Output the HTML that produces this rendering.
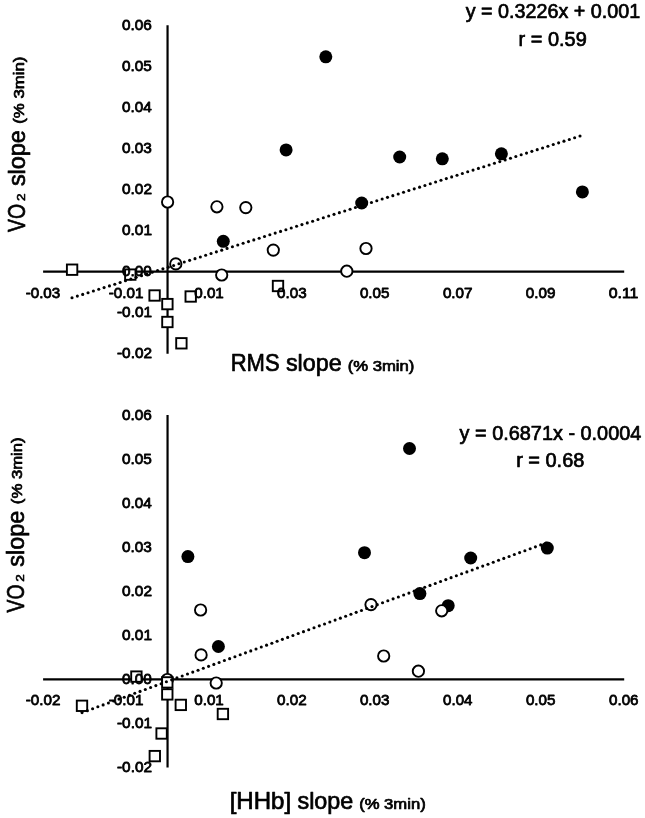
<!DOCTYPE html>
<html><head><meta charset="utf-8"><title>chart</title>
<style>html,body{margin:0;padding:0;background:#fff;}body{width:645px;height:818px;overflow:hidden}
text{font-family:"Liberation Sans",sans-serif;fill:#000;}</style></head>
<body>
<svg width="645" height="818" viewBox="0 0 645 818" style="display:block;will-change:transform;filter:grayscale(1)">
<rect width="645" height="818" fill="#fff"/>
<line x1="167.55" y1="25.3" x2="167.55" y2="353.8" stroke="#000" stroke-width="2.2" stroke-linecap="butt"/>
<line x1="43.1" y1="271.6" x2="624.2" y2="271.6" stroke="#000" stroke-width="2.2" stroke-linecap="butt"/>
<line x1="167.55" y1="415.1" x2="167.55" y2="767.5" stroke="#000" stroke-width="2.2" stroke-linecap="butt"/>
<line x1="43.1" y1="679.3" x2="624.2" y2="679.3" stroke="#000" stroke-width="2.2" stroke-linecap="butt"/>
<circle cx="325.8" cy="56.8" r="6.5" fill="#000"/>
<circle cx="286.1" cy="149.9" r="6.5" fill="#000"/>
<circle cx="399.7" cy="157" r="6.5" fill="#000"/>
<circle cx="361.7" cy="203" r="6.5" fill="#000"/>
<circle cx="442.3" cy="158.8" r="6.5" fill="#000"/>
<circle cx="501.4" cy="153.8" r="6.5" fill="#000"/>
<circle cx="582.4" cy="191.9" r="6.5" fill="#000"/>
<circle cx="223.3" cy="241.3" r="6.5" fill="#000"/>
<circle cx="167.6" cy="202" r="5.65" fill="#fff" stroke="#000" stroke-width="1.9"/>
<circle cx="216.9" cy="206.8" r="5.65" fill="#fff" stroke="#000" stroke-width="1.9"/>
<circle cx="245.8" cy="207.6" r="5.65" fill="#fff" stroke="#000" stroke-width="1.9"/>
<circle cx="175.8" cy="263.9" r="5.65" fill="#fff" stroke="#000" stroke-width="1.9"/>
<circle cx="221.7" cy="275" r="5.65" fill="#fff" stroke="#000" stroke-width="1.9"/>
<circle cx="273.3" cy="250.1" r="5.65" fill="#fff" stroke="#000" stroke-width="1.9"/>
<circle cx="366" cy="248.5" r="5.65" fill="#fff" stroke="#000" stroke-width="1.9"/>
<circle cx="346.8" cy="271.2" r="5.65" fill="#fff" stroke="#000" stroke-width="1.9"/>
<rect x="66.90" y="264.50" width="10.4" height="10.4" fill="#fff" stroke="#000" stroke-width="1.9"/>
<rect x="125.10" y="269.40" width="10.4" height="10.4" fill="#fff" stroke="#000" stroke-width="1.9"/>
<rect x="149.40" y="290.30" width="10.4" height="10.4" fill="#fff" stroke="#000" stroke-width="1.9"/>
<rect x="162.20" y="298.90" width="10.4" height="10.4" fill="#fff" stroke="#000" stroke-width="1.9"/>
<rect x="185.50" y="291.30" width="10.4" height="10.4" fill="#fff" stroke="#000" stroke-width="1.9"/>
<rect x="162.20" y="316.80" width="10.4" height="10.4" fill="#fff" stroke="#000" stroke-width="1.9"/>
<rect x="176.20" y="338.10" width="10.4" height="10.4" fill="#fff" stroke="#000" stroke-width="1.9"/>
<rect x="272.80" y="280.80" width="10.4" height="10.4" fill="#fff" stroke="#000" stroke-width="1.9"/>
<circle cx="187.9" cy="556.6" r="6.5" fill="#000"/>
<circle cx="409.5" cy="448.5" r="6.5" fill="#000"/>
<circle cx="364.5" cy="552.7" r="6.5" fill="#000"/>
<circle cx="419.9" cy="593.6" r="6.5" fill="#000"/>
<circle cx="448.2" cy="605.7" r="6.5" fill="#000"/>
<circle cx="547.3" cy="548.1" r="6.5" fill="#000"/>
<circle cx="470.7" cy="558" r="6.5" fill="#000"/>
<circle cx="218.4" cy="646.5" r="6.5" fill="#000"/>
<circle cx="200.6" cy="610" r="5.65" fill="#fff" stroke="#000" stroke-width="1.9"/>
<circle cx="201.1" cy="654.9" r="5.65" fill="#fff" stroke="#000" stroke-width="1.9"/>
<circle cx="167.4" cy="679.5" r="5.65" fill="#fff" stroke="#000" stroke-width="1.9"/>
<circle cx="216.2" cy="683" r="5.65" fill="#fff" stroke="#000" stroke-width="1.9"/>
<circle cx="371" cy="604.6" r="5.65" fill="#fff" stroke="#000" stroke-width="1.9"/>
<circle cx="383.7" cy="656" r="5.65" fill="#fff" stroke="#000" stroke-width="1.9"/>
<circle cx="418.4" cy="671.2" r="5.65" fill="#fff" stroke="#000" stroke-width="1.9"/>
<circle cx="441.7" cy="610.8" r="5.65" fill="#fff" stroke="#000" stroke-width="1.9"/>
<rect x="76.80" y="700.60" width="10.4" height="10.4" fill="#fff" stroke="#000" stroke-width="1.9"/>
<rect x="131.20" y="671.40" width="10.4" height="10.4" fill="#fff" stroke="#000" stroke-width="1.9"/>
<rect x="162.10" y="677.20" width="10.4" height="10.4" fill="#fff" stroke="#000" stroke-width="1.9"/>
<rect x="162.10" y="689.20" width="10.4" height="10.4" fill="#fff" stroke="#000" stroke-width="1.9"/>
<rect x="175.60" y="699.70" width="10.4" height="10.4" fill="#fff" stroke="#000" stroke-width="1.9"/>
<rect x="217.70" y="708.80" width="10.4" height="10.4" fill="#fff" stroke="#000" stroke-width="1.9"/>
<rect x="156.40" y="728.30" width="10.4" height="10.4" fill="#fff" stroke="#000" stroke-width="1.9"/>
<rect x="149.60" y="750.90" width="10.4" height="10.4" fill="#fff" stroke="#000" stroke-width="1.9"/>
<circle cx="72.00" cy="297.80" r="1.55"/>
<circle cx="77.35" cy="296.10" r="1.55"/>
<circle cx="82.69" cy="294.39" r="1.55"/>
<circle cx="88.04" cy="292.69" r="1.55"/>
<circle cx="93.39" cy="290.99" r="1.55"/>
<circle cx="98.74" cy="289.29" r="1.55"/>
<circle cx="104.08" cy="287.58" r="1.55"/>
<circle cx="109.43" cy="285.88" r="1.55"/>
<circle cx="114.78" cy="284.18" r="1.55"/>
<circle cx="120.13" cy="282.48" r="1.55"/>
<circle cx="125.47" cy="280.77" r="1.55"/>
<circle cx="130.82" cy="279.07" r="1.55"/>
<circle cx="136.17" cy="277.37" r="1.55"/>
<circle cx="141.52" cy="275.67" r="1.55"/>
<circle cx="146.86" cy="273.96" r="1.55"/>
<circle cx="152.21" cy="272.26" r="1.55"/>
<circle cx="157.56" cy="270.56" r="1.55"/>
<circle cx="162.91" cy="268.86" r="1.55"/>
<circle cx="168.25" cy="267.15" r="1.55"/>
<circle cx="173.60" cy="265.45" r="1.55"/>
<circle cx="178.95" cy="263.75" r="1.55"/>
<circle cx="184.29" cy="262.04" r="1.55"/>
<circle cx="189.64" cy="260.34" r="1.55"/>
<circle cx="194.99" cy="258.64" r="1.55"/>
<circle cx="200.34" cy="256.94" r="1.55"/>
<circle cx="205.68" cy="255.23" r="1.55"/>
<circle cx="211.03" cy="253.53" r="1.55"/>
<circle cx="216.38" cy="251.83" r="1.55"/>
<circle cx="221.73" cy="250.13" r="1.55"/>
<circle cx="227.07" cy="248.42" r="1.55"/>
<circle cx="232.42" cy="246.72" r="1.55"/>
<circle cx="237.77" cy="245.02" r="1.55"/>
<circle cx="243.12" cy="243.32" r="1.55"/>
<circle cx="248.46" cy="241.61" r="1.55"/>
<circle cx="253.81" cy="239.91" r="1.55"/>
<circle cx="259.16" cy="238.21" r="1.55"/>
<circle cx="264.51" cy="236.51" r="1.55"/>
<circle cx="269.85" cy="234.80" r="1.55"/>
<circle cx="275.20" cy="233.10" r="1.55"/>
<circle cx="280.55" cy="231.40" r="1.55"/>
<circle cx="285.89" cy="229.69" r="1.55"/>
<circle cx="291.24" cy="227.99" r="1.55"/>
<circle cx="296.59" cy="226.29" r="1.55"/>
<circle cx="301.94" cy="224.59" r="1.55"/>
<circle cx="307.28" cy="222.88" r="1.55"/>
<circle cx="312.63" cy="221.18" r="1.55"/>
<circle cx="317.98" cy="219.48" r="1.55"/>
<circle cx="323.33" cy="217.78" r="1.55"/>
<circle cx="328.67" cy="216.07" r="1.55"/>
<circle cx="334.02" cy="214.37" r="1.55"/>
<circle cx="339.37" cy="212.67" r="1.55"/>
<circle cx="344.72" cy="210.97" r="1.55"/>
<circle cx="350.06" cy="209.26" r="1.55"/>
<circle cx="355.41" cy="207.56" r="1.55"/>
<circle cx="360.76" cy="205.86" r="1.55"/>
<circle cx="366.11" cy="204.16" r="1.55"/>
<circle cx="371.45" cy="202.45" r="1.55"/>
<circle cx="376.80" cy="200.75" r="1.55"/>
<circle cx="382.15" cy="199.05" r="1.55"/>
<circle cx="387.49" cy="197.34" r="1.55"/>
<circle cx="392.84" cy="195.64" r="1.55"/>
<circle cx="398.19" cy="193.94" r="1.55"/>
<circle cx="403.54" cy="192.24" r="1.55"/>
<circle cx="408.88" cy="190.53" r="1.55"/>
<circle cx="414.23" cy="188.83" r="1.55"/>
<circle cx="419.58" cy="187.13" r="1.55"/>
<circle cx="424.93" cy="185.43" r="1.55"/>
<circle cx="430.27" cy="183.72" r="1.55"/>
<circle cx="435.62" cy="182.02" r="1.55"/>
<circle cx="440.97" cy="180.32" r="1.55"/>
<circle cx="446.32" cy="178.62" r="1.55"/>
<circle cx="451.66" cy="176.91" r="1.55"/>
<circle cx="457.01" cy="175.21" r="1.55"/>
<circle cx="462.36" cy="173.51" r="1.55"/>
<circle cx="467.71" cy="171.81" r="1.55"/>
<circle cx="473.05" cy="170.10" r="1.55"/>
<circle cx="478.40" cy="168.40" r="1.55"/>
<circle cx="483.75" cy="166.70" r="1.55"/>
<circle cx="489.09" cy="164.99" r="1.55"/>
<circle cx="494.44" cy="163.29" r="1.55"/>
<circle cx="499.79" cy="161.59" r="1.55"/>
<circle cx="505.14" cy="159.89" r="1.55"/>
<circle cx="510.48" cy="158.18" r="1.55"/>
<circle cx="515.83" cy="156.48" r="1.55"/>
<circle cx="521.18" cy="154.78" r="1.55"/>
<circle cx="526.53" cy="153.08" r="1.55"/>
<circle cx="531.87" cy="151.37" r="1.55"/>
<circle cx="537.22" cy="149.67" r="1.55"/>
<circle cx="542.57" cy="147.97" r="1.55"/>
<circle cx="547.92" cy="146.27" r="1.55"/>
<circle cx="553.26" cy="144.56" r="1.55"/>
<circle cx="558.61" cy="142.86" r="1.55"/>
<circle cx="563.96" cy="141.16" r="1.55"/>
<circle cx="569.31" cy="139.46" r="1.55"/>
<circle cx="574.65" cy="137.75" r="1.55"/>
<circle cx="580.00" cy="136.05" r="1.55"/>
<circle cx="82.05" cy="712.60" r="1.55"/>
<circle cx="87.32" cy="710.67" r="1.55"/>
<circle cx="92.59" cy="708.74" r="1.55"/>
<circle cx="97.87" cy="706.82" r="1.55"/>
<circle cx="103.14" cy="704.89" r="1.55"/>
<circle cx="108.41" cy="702.96" r="1.55"/>
<circle cx="113.68" cy="701.03" r="1.55"/>
<circle cx="118.95" cy="699.11" r="1.55"/>
<circle cx="124.22" cy="697.18" r="1.55"/>
<circle cx="129.50" cy="695.25" r="1.55"/>
<circle cx="134.77" cy="693.32" r="1.55"/>
<circle cx="140.04" cy="691.40" r="1.55"/>
<circle cx="145.31" cy="689.47" r="1.55"/>
<circle cx="150.58" cy="687.54" r="1.55"/>
<circle cx="155.86" cy="685.61" r="1.55"/>
<circle cx="161.13" cy="683.69" r="1.55"/>
<circle cx="166.40" cy="681.76" r="1.55"/>
<circle cx="171.67" cy="679.83" r="1.55"/>
<circle cx="176.94" cy="677.90" r="1.55"/>
<circle cx="182.21" cy="675.98" r="1.55"/>
<circle cx="187.49" cy="674.05" r="1.55"/>
<circle cx="192.76" cy="672.12" r="1.55"/>
<circle cx="198.03" cy="670.19" r="1.55"/>
<circle cx="203.30" cy="668.27" r="1.55"/>
<circle cx="208.57" cy="666.34" r="1.55"/>
<circle cx="213.85" cy="664.41" r="1.55"/>
<circle cx="219.12" cy="662.48" r="1.55"/>
<circle cx="224.39" cy="660.56" r="1.55"/>
<circle cx="229.66" cy="658.63" r="1.55"/>
<circle cx="234.93" cy="656.70" r="1.55"/>
<circle cx="240.21" cy="654.77" r="1.55"/>
<circle cx="245.48" cy="652.84" r="1.55"/>
<circle cx="250.75" cy="650.92" r="1.55"/>
<circle cx="256.02" cy="648.99" r="1.55"/>
<circle cx="261.29" cy="647.06" r="1.55"/>
<circle cx="266.56" cy="645.13" r="1.55"/>
<circle cx="271.84" cy="643.21" r="1.55"/>
<circle cx="277.11" cy="641.28" r="1.55"/>
<circle cx="282.38" cy="639.35" r="1.55"/>
<circle cx="287.65" cy="637.42" r="1.55"/>
<circle cx="292.92" cy="635.50" r="1.55"/>
<circle cx="298.20" cy="633.57" r="1.55"/>
<circle cx="303.47" cy="631.64" r="1.55"/>
<circle cx="308.74" cy="629.71" r="1.55"/>
<circle cx="314.01" cy="627.79" r="1.55"/>
<circle cx="319.28" cy="625.86" r="1.55"/>
<circle cx="324.55" cy="623.93" r="1.55"/>
<circle cx="329.83" cy="622.00" r="1.55"/>
<circle cx="335.10" cy="620.08" r="1.55"/>
<circle cx="340.37" cy="618.15" r="1.55"/>
<circle cx="345.64" cy="616.22" r="1.55"/>
<circle cx="350.91" cy="614.29" r="1.55"/>
<circle cx="356.19" cy="612.37" r="1.55"/>
<circle cx="361.46" cy="610.44" r="1.55"/>
<circle cx="366.73" cy="608.51" r="1.55"/>
<circle cx="372.00" cy="606.58" r="1.55"/>
<circle cx="377.27" cy="604.66" r="1.55"/>
<circle cx="382.54" cy="602.73" r="1.55"/>
<circle cx="387.82" cy="600.80" r="1.55"/>
<circle cx="393.09" cy="598.87" r="1.55"/>
<circle cx="398.36" cy="596.94" r="1.55"/>
<circle cx="403.63" cy="595.02" r="1.55"/>
<circle cx="408.90" cy="593.09" r="1.55"/>
<circle cx="414.18" cy="591.16" r="1.55"/>
<circle cx="419.45" cy="589.23" r="1.55"/>
<circle cx="424.72" cy="587.31" r="1.55"/>
<circle cx="429.99" cy="585.38" r="1.55"/>
<circle cx="435.26" cy="583.45" r="1.55"/>
<circle cx="440.54" cy="581.52" r="1.55"/>
<circle cx="445.81" cy="579.60" r="1.55"/>
<circle cx="451.08" cy="577.67" r="1.55"/>
<circle cx="456.35" cy="575.74" r="1.55"/>
<circle cx="461.62" cy="573.81" r="1.55"/>
<circle cx="466.89" cy="571.89" r="1.55"/>
<circle cx="472.17" cy="569.96" r="1.55"/>
<circle cx="477.44" cy="568.03" r="1.55"/>
<circle cx="482.71" cy="566.10" r="1.55"/>
<circle cx="487.98" cy="564.18" r="1.55"/>
<circle cx="493.25" cy="562.25" r="1.55"/>
<circle cx="498.53" cy="560.32" r="1.55"/>
<circle cx="503.80" cy="558.39" r="1.55"/>
<circle cx="509.07" cy="556.47" r="1.55"/>
<circle cx="514.34" cy="554.54" r="1.55"/>
<circle cx="519.61" cy="552.61" r="1.55"/>
<circle cx="524.88" cy="550.68" r="1.55"/>
<circle cx="530.16" cy="548.76" r="1.55"/>
<circle cx="535.43" cy="546.83" r="1.55"/>
<circle cx="540.70" cy="544.90" r="1.55"/>
<circle cx="545.97" cy="542.97" r="1.55"/>
<text transform="translate(121.99 30.23) scale(1.0327 1)" font-size="14.86" font-weight="normal" stroke="#000" stroke-width="0.8" stroke-linejoin="round">0.06</text>
<text transform="translate(121.99 71.23) scale(1.0327 1)" font-size="14.86" font-weight="normal" stroke="#000" stroke-width="0.8" stroke-linejoin="round">0.05</text>
<text transform="translate(121.99 112.23) scale(1.0272 1)" font-size="14.86" font-weight="normal" stroke="#000" stroke-width="0.8" stroke-linejoin="round">0.04</text>
<text transform="translate(121.99 153.23) scale(1.0327 1)" font-size="14.86" font-weight="normal" stroke="#000" stroke-width="0.8" stroke-linejoin="round">0.03</text>
<text transform="translate(121.99 194.23) scale(1.0382 1)" font-size="14.86" font-weight="normal" stroke="#000" stroke-width="0.8" stroke-linejoin="round">0.02</text>
<text transform="translate(121.99 235.23) scale(1.0382 1)" font-size="14.86" font-weight="normal" stroke="#000" stroke-width="0.8" stroke-linejoin="round">0.01</text>
<text transform="translate(121.99 276.23) scale(1.0327 1)" font-size="14.86" font-weight="normal" stroke="#000" stroke-width="0.8" stroke-linejoin="round">0.00</text>
<text transform="translate(116.99 317.23) scale(1.0341 1)" font-size="14.86" font-weight="normal" stroke="#000" stroke-width="0.8" stroke-linejoin="round">-0.01</text>
<text transform="translate(116.99 358.23) scale(1.0341 1)" font-size="14.86" font-weight="normal" stroke="#000" stroke-width="0.8" stroke-linejoin="round">-0.02</text>
<text transform="translate(25.69 297.78) scale(1.0203 1)" font-size="14.86" font-weight="normal" stroke="#000" stroke-width="0.8" stroke-linejoin="round">-0.03</text>
<text transform="translate(108.69 297.78) scale(1.0249 1)" font-size="14.86" font-weight="normal" stroke="#000" stroke-width="0.8" stroke-linejoin="round">-0.01</text>
<text transform="translate(194.19 297.78) scale(1.0256 1)" font-size="14.86" font-weight="normal" stroke="#000" stroke-width="0.8" stroke-linejoin="round">0.01</text>
<text transform="translate(277.10 297.78) scale(1.0201 1)" font-size="14.86" font-weight="normal" stroke="#000" stroke-width="0.8" stroke-linejoin="round">0.03</text>
<text transform="translate(359.90 297.78) scale(1.0201 1)" font-size="14.86" font-weight="normal" stroke="#000" stroke-width="0.8" stroke-linejoin="round">0.05</text>
<text transform="translate(442.89 297.78) scale(1.0256 1)" font-size="14.86" font-weight="normal" stroke="#000" stroke-width="0.8" stroke-linejoin="round">0.07</text>
<text transform="translate(525.79 297.78) scale(1.0256 1)" font-size="14.86" font-weight="normal" stroke="#000" stroke-width="0.8" stroke-linejoin="round">0.09</text>
<text transform="translate(608.67 297.78) scale(1.0680 1)" font-size="14.86" font-weight="normal" stroke="#000" stroke-width="0.8" stroke-linejoin="round">0.11</text>
<text transform="translate(121.99 419.68) scale(1.0327 1)" font-size="14.86" font-weight="normal" stroke="#000" stroke-width="0.8" stroke-linejoin="round">0.06</text>
<text transform="translate(121.99 463.68) scale(1.0327 1)" font-size="14.86" font-weight="normal" stroke="#000" stroke-width="0.8" stroke-linejoin="round">0.05</text>
<text transform="translate(121.99 507.68) scale(1.0272 1)" font-size="14.86" font-weight="normal" stroke="#000" stroke-width="0.8" stroke-linejoin="round">0.04</text>
<text transform="translate(121.99 551.68) scale(1.0327 1)" font-size="14.86" font-weight="normal" stroke="#000" stroke-width="0.8" stroke-linejoin="round">0.03</text>
<text transform="translate(121.99 595.68) scale(1.0382 1)" font-size="14.86" font-weight="normal" stroke="#000" stroke-width="0.8" stroke-linejoin="round">0.02</text>
<text transform="translate(121.99 639.68) scale(1.0382 1)" font-size="14.86" font-weight="normal" stroke="#000" stroke-width="0.8" stroke-linejoin="round">0.01</text>
<text transform="translate(121.99 683.68) scale(1.0327 1)" font-size="14.86" font-weight="normal" stroke="#000" stroke-width="0.8" stroke-linejoin="round">0.00</text>
<text transform="translate(116.99 727.68) scale(1.0341 1)" font-size="14.86" font-weight="normal" stroke="#000" stroke-width="0.8" stroke-linejoin="round">-0.01</text>
<text transform="translate(116.99 771.68) scale(1.0341 1)" font-size="14.86" font-weight="normal" stroke="#000" stroke-width="0.8" stroke-linejoin="round">-0.02</text>
<text transform="translate(25.69 705.38) scale(1.0249 1)" font-size="14.86" font-weight="normal" stroke="#000" stroke-width="0.8" stroke-linejoin="round">-0.02</text>
<text transform="translate(108.69 705.38) scale(1.0249 1)" font-size="14.86" font-weight="normal" stroke="#000" stroke-width="0.8" stroke-linejoin="round">-0.01</text>
<text transform="translate(194.19 705.38) scale(1.0256 1)" font-size="14.86" font-weight="normal" stroke="#000" stroke-width="0.8" stroke-linejoin="round">0.01</text>
<text transform="translate(277.09 705.38) scale(1.0256 1)" font-size="14.86" font-weight="normal" stroke="#000" stroke-width="0.8" stroke-linejoin="round">0.02</text>
<text transform="translate(359.90 705.38) scale(1.0201 1)" font-size="14.86" font-weight="normal" stroke="#000" stroke-width="0.8" stroke-linejoin="round">0.03</text>
<text transform="translate(443.10 705.38) scale(1.0147 1)" font-size="14.86" font-weight="normal" stroke="#000" stroke-width="0.8" stroke-linejoin="round">0.04</text>
<text transform="translate(525.90 705.38) scale(1.0201 1)" font-size="14.86" font-weight="normal" stroke="#000" stroke-width="0.8" stroke-linejoin="round">0.05</text>
<text transform="translate(609.00 705.38) scale(1.0201 1)" font-size="14.86" font-weight="normal" stroke="#000" stroke-width="0.8" stroke-linejoin="round">0.06</text>
<text transform="translate(465.75 18.35) scale(0.9940 1)" font-size="19.86" font-weight="normal" stroke="#000" stroke-width="0.7" stroke-linejoin="round">y = 0.3226x + 0.001</text>
<text transform="translate(518.55 45.95) scale(1.0047 1)" font-size="19.86" font-weight="normal" stroke="#000" stroke-width="0.7" stroke-linejoin="round">r = 0.59</text>
<text transform="translate(459.55 439.65) scale(0.9940 1)" font-size="20.00" font-weight="normal" stroke="#000" stroke-width="0.7" stroke-linejoin="round">y = 0.6871x - 0.0004</text>
<text transform="translate(516.15 466.95) scale(1.0047 1)" font-size="19.86" font-weight="normal" stroke="#000" stroke-width="0.7" stroke-linejoin="round">r = 0.68</text>
<text transform="translate(230.69 371.25) scale(0.9217 1)" font-size="23.91" font-weight="normal" stroke="#000" stroke-width="0.7" stroke-linejoin="round">RMS</text>
<text transform="translate(285.88 371.25) scale(0.9763 1)" font-size="23.91" font-weight="normal" stroke="#000" stroke-width="0.7" stroke-linejoin="round">slope</text>
<text transform="translate(347.65 371.11) scale(1.1603 1)" font-size="14.37" font-weight="normal" stroke="#000" stroke-width="0.7" stroke-linejoin="round">(% 3min)</text>
<text transform="translate(229.67 808.55) scale(1.0314 1)" font-size="23.33" font-weight="normal" stroke="#000" stroke-width="0.7" stroke-linejoin="round">[HHb]</text>
<text transform="translate(297.48 808.55) scale(1.0024 1)" font-size="23.33" font-weight="normal" stroke="#000" stroke-width="0.7" stroke-linejoin="round">slope</text>
<text transform="translate(359.15 808.51) scale(1.1700 1)" font-size="14.23" font-weight="normal" stroke="#000" stroke-width="0.7" stroke-linejoin="round">(% 3min)</text>
<text transform="translate(24.65 231.95) rotate(-90) scale(0.7967 1)" x="0.00" font-size="24.35" font-weight="normal" stroke="#000" stroke-width="0.7" stroke-linejoin="round">VO</text>
<text transform="translate(24.70 200.40) rotate(-90) scale(1.1648 1)" x="-0.58" font-size="11.57" font-weight="normal" stroke="#000" stroke-width="0.6" stroke-linejoin="round">2</text>
<text transform="translate(24.65 185.65) rotate(-90) scale(0.9624 1)" x="-0.49" font-size="24.35" font-weight="normal" stroke="#000" stroke-width="0.7" stroke-linejoin="round">slope</text>
<text transform="translate(23.55 612.55) rotate(-90) scale(0.8015 1)" x="0.00" font-size="24.20" font-weight="normal" stroke="#000" stroke-width="0.7" stroke-linejoin="round">VO</text>
<text transform="translate(23.60 581.00) rotate(-90) scale(1.1648 1)" x="-0.58" font-size="11.57" font-weight="normal" stroke="#000" stroke-width="0.6" stroke-linejoin="round">2</text>
<text transform="translate(23.55 566.25) rotate(-90) scale(0.9681 1)" x="-0.48" font-size="24.20" font-weight="normal" stroke="#000" stroke-width="0.7" stroke-linejoin="round">slope</text>
<text transform="translate(23.61 122.75) rotate(-90) scale(1.1790 1)" x="-0.85" font-size="14.23" font-weight="normal" stroke="#000" stroke-width="0.7" stroke-linejoin="round">(% 3min)</text>
<text transform="translate(22.41 503.15) rotate(-90) scale(1.1736 1)" x="-0.85" font-size="14.23" font-weight="normal" stroke="#000" stroke-width="0.7" stroke-linejoin="round">(% 3min)</text>

</svg>
</body></html>
